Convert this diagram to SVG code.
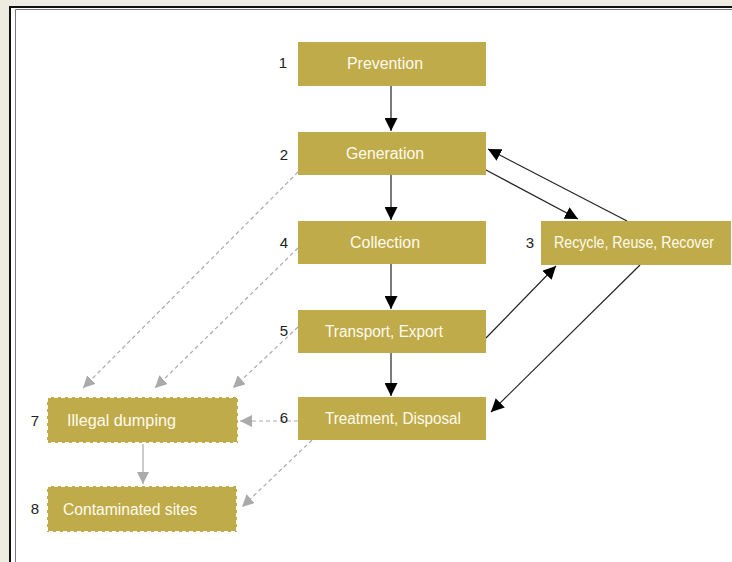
<svg xmlns="http://www.w3.org/2000/svg" width="732" height="562" viewBox="0 0 732 562">
<defs>
<style>
.box{fill:#c0ab4a}
.dbox{fill:#c0ab4a;stroke:#fff;stroke-width:2;stroke-dasharray:4 3}
.lbl{font-family:"Liberation Sans",Arial,sans-serif;font-size:16px;fill:#fffbee}
.num{font-family:"Liberation Sans",Arial,sans-serif;font-size:15px;fill:#222}
.ar{stroke:#222;stroke-width:1.2;fill:none}
.ga{stroke:#aaa;stroke-width:1.2;fill:none;stroke-dasharray:4 3}
.gs{stroke:#bbb;stroke-width:1.5;fill:none}
</style>
<marker id="mb" viewBox="0 0 10 10" refX="10" refY="5" markerWidth="13" markerHeight="13" markerUnits="userSpaceOnUse" orient="auto"><path d="M0,0L10,5L0,10z" fill="#000"/></marker>
<marker id="mg" viewBox="0 0 10 10" refX="10" refY="5" markerWidth="12" markerHeight="12" markerUnits="userSpaceOnUse" orient="auto"><path d="M0,0L10,5L0,10z" fill="#aaa"/></marker>
</defs>
<rect x="0" y="0" width="732" height="562" fill="#eeebe0"/>
<rect x="10" y="7" width="722" height="555" fill="#fff"/>
<path d="M10,562V7H732" stroke="#111" stroke-width="2" fill="none"/>
<path d="M15.5,562V9.5H732" stroke="#777" stroke-width="1" fill="none"/>
<g id="connectors">
<line class="ar" x1="391" y1="86" x2="391" y2="131" marker-end="url(#mb)"/>
<line class="ar" x1="391" y1="175" x2="391" y2="220" marker-end="url(#mb)"/>
<line class="ar" x1="391" y1="264" x2="391" y2="309" marker-end="url(#mb)"/>
<line class="ar" x1="391" y1="353" x2="391" y2="396" marker-end="url(#mb)"/>
<line class="ar" x1="486" y1="170" x2="578" y2="219" marker-end="url(#mb)"/>
<line class="ar" x1="627" y1="221" x2="488" y2="149" marker-end="url(#mb)"/>
<line class="ar" x1="486" y1="338" x2="556" y2="266" marker-end="url(#mb)"/>
<line class="ar" x1="640" y1="265" x2="491" y2="412" marker-end="url(#mb)"/>
<line class="ga" x1="298" y1="172" x2="83" y2="388" marker-end="url(#mg)"/>
<line class="ga" x1="298" y1="248" x2="155" y2="388" marker-end="url(#mg)"/>
<line class="ga" x1="298" y1="327" x2="233" y2="388" marker-end="url(#mg)"/>
<line class="ga" x1="298" y1="421" x2="240" y2="421" marker-end="url(#mg)"/>
<line class="ga" x1="312" y1="440" x2="242" y2="507" marker-end="url(#mg)"/>
<line class="gs" x1="143" y1="443" x2="143" y2="484" marker-end="url(#mg)"/>
</g>
<g id="n1"><rect class="box" x="298" y="42" width="188" height="44"/><text class="lbl" x="385" y="69" text-anchor="middle" textLength="76" lengthAdjust="spacingAndGlyphs">Prevention</text><text class="num" x="283" y="68" text-anchor="middle">1</text></g>
<g id="n2"><rect class="box" x="298" y="132" width="188" height="43"/><text class="lbl" x="385" y="159" text-anchor="middle" textLength="78" lengthAdjust="spacingAndGlyphs">Generation</text><text class="num" x="284" y="160" text-anchor="middle">2</text></g>
<g id="n4"><rect class="box" x="298" y="221" width="188" height="43"/><text class="lbl" x="385" y="248" text-anchor="middle" textLength="70" lengthAdjust="spacingAndGlyphs">Collection</text><text class="num" x="284" y="248" text-anchor="middle">4</text></g>
<g id="n5"><rect class="box" x="298" y="310" width="188" height="43"/><text class="lbl" x="384" y="337" text-anchor="middle" textLength="118" lengthAdjust="spacingAndGlyphs">Transport, Export</text><text class="num" x="284" y="336" text-anchor="middle">5</text></g>
<g id="n6"><rect class="box" x="298" y="397" width="188" height="43"/><text class="lbl" x="393" y="424" text-anchor="middle" textLength="136" lengthAdjust="spacingAndGlyphs">Treatment, Disposal</text><text class="num" x="284" y="423" text-anchor="middle">6</text></g>
<g id="n3"><rect class="box" x="541" y="221" width="190" height="44"/><text class="lbl" x="634" y="248" text-anchor="middle" textLength="160" lengthAdjust="spacingAndGlyphs">Recycle, Reuse, Recover</text><text class="num" x="530" y="248" text-anchor="middle">3</text></g>
<g id="n7"><rect class="dbox" x="47" y="397" width="191" height="46"/><text class="lbl" x="67" y="426" textLength="109" lengthAdjust="spacingAndGlyphs">Illegal dumping</text><text class="num" x="35" y="426" text-anchor="middle">7</text></g>
<g id="n8"><rect class="dbox" x="47" y="486" width="190" height="46"/><text class="lbl" x="63" y="515" textLength="134" lengthAdjust="spacingAndGlyphs">Contaminated sites</text><text class="num" x="35" y="514" text-anchor="middle">8</text></g>
</svg>
